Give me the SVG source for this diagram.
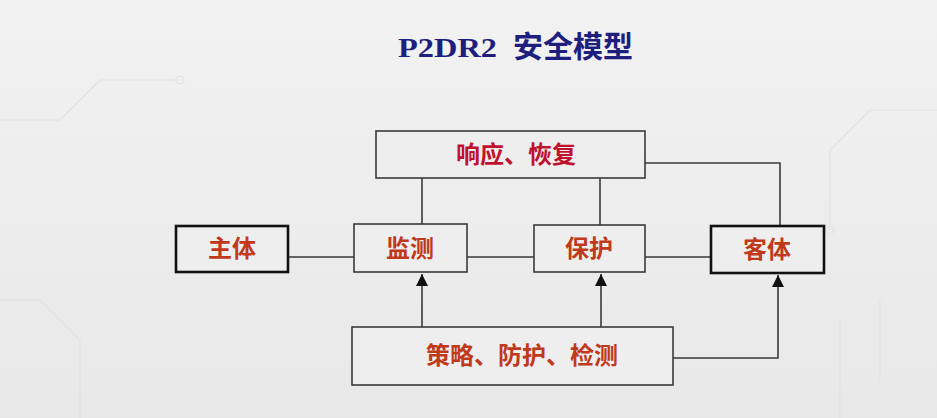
<svg xmlns="http://www.w3.org/2000/svg" width="937" height="418" viewBox="0 0 937 418">
<defs>
<linearGradient id="bg" x1="0" y1="0" x2="0" y2="1">
<stop offset="0" stop-color="#f2f2f2"/>
<stop offset="1" stop-color="#e8e8e8"/>
</linearGradient>
<marker id="arr" viewBox="0 0 10 10" refX="10" refY="5" markerWidth="12" markerHeight="12" markerUnits="userSpaceOnUse" orient="auto">
<path d="M0,0 L10,5 L0,10 z" fill="#111"/>
</marker>
<style>
.box{fill:#eeeeee;stroke:#3a3a3a;stroke-width:1.6}
.thick{fill:#eeeeee;stroke:#111;stroke-width:2.6}
.lbl{font-family:"Liberation Serif","Noto Sans CJK SC",serif;font-weight:bold;font-size:24px;text-anchor:middle;fill:#c0391b}
.red{fill:#c0122e}
.ln{fill:none;stroke:#3a3a3a;stroke-width:1.6}
.title{font-family:"Liberation Serif","Noto Sans CJK SC",serif;font-weight:bold;fill:#1e1e7e}
</style>
</defs>
<rect width="937" height="418" fill="url(#bg)"/>
<g stroke="#e2e2e2" stroke-width="1.2" fill="none">
<path d="M0,120 H60 L100,80 H180"/>
<path d="M0,300 H40 L80,340 V418"/>
<path d="M937,110 H870 L830,150 V230"/>
<path d="M840,320 V418"/>
<path d="M880,300 V380"/>
<circle cx="180" cy="80" r="4"/>
<circle cx="830" cy="230" r="4"/>
</g>
<text class="title" x="398" y="57" font-size="28"><tspan textLength="99" lengthAdjust="spacingAndGlyphs">P2DR2</tspan><tspan x="513" font-size="30">安全模型</tspan></text>
<g id="connectors">
<path class="ln" d="M288,257 H354"/>
<path class="ln" d="M467,257 H534"/>
<path class="ln" d="M645,257 H711"/>
<path class="ln" d="M422,178 V224"/>
<path class="ln" d="M600,178 V225"/>
<path class="ln" d="M645,163 H780 V226"/>
<path class="ln" d="M422,327 V274" marker-end="url(#arr)"/>
<path class="ln" d="M601,327 V274" marker-end="url(#arr)"/>
<path class="ln" d="M673,358 H778 V275" marker-end="url(#arr)"/>
</g>
<g id="respond">
<rect class="box" x="376" y="131" width="269" height="47"/>
<text class="lbl red" x="516" y="163">响应、恢复</text>
</g>
<g id="subject">
<rect class="thick" x="176" y="226" width="112" height="46"/>
<text class="lbl" x="232" y="257">主体</text>
</g>
<g id="monitor">
<rect class="box" x="354" y="224" width="113" height="48"/>
<text class="lbl" x="410" y="257">监测</text>
</g>
<g id="protect">
<rect class="box" x="534" y="225" width="111" height="47"/>
<text class="lbl" x="589" y="257">保护</text>
</g>
<g id="object">
<rect class="thick" x="711" y="226" width="113" height="47"/>
<text class="lbl" x="767" y="258">客体</text>
</g>
<g id="policy">
<rect class="box" x="352" y="327" width="321" height="58"/>
<text class="lbl" x="522" y="364">策略、防护、检测</text>
</g>
</svg>
